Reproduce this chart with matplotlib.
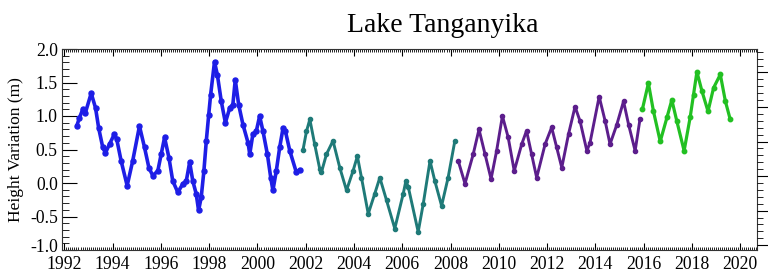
import numpy as np
import matplotlib
matplotlib.use("Agg")
import matplotlib.pyplot as plt
import matplotlib.transforms as mtransforms
from matplotlib.ticker import MultipleLocator

# ========================
# DATA
# ========================
# TOPEX/Poseidon
blue_years = [1992.51, 1992.62, 1992.76, 1992.87, 1993.11, 1993.29, 1993.42, 1993.59,
              1993.70, 1993.87, 1994.07, 1994.17, 1994.35, 1994.60, 1994.83, 1995.11,
              1995.32, 1995.50, 1995.66, 1995.87, 1996.01, 1996.15, 1996.33, 1996.49,
              1996.70, 1996.91, 1997.05, 1997.19, 1997.32, 1997.46, 1997.56, 1997.67,
              1997.78, 1997.88, 1997.98, 1998.06, 1998.22, 1998.34, 1998.50, 1998.67,
              1998.85, 1998.98, 1999.08, 1999.22, 1999.40, 1999.61, 1999.68, 1999.81,
              1999.95, 2000.09, 2000.23, 2000.41, 2000.55, 2000.64, 2000.78, 2000.92,
              2001.06, 2001.16, 2001.34, 2001.61, 2001.75]
blue_h = [0.85, 0.97, 1.10, 1.05, 1.34, 1.12, 0.82, 0.53,
          0.45, 0.58, 0.73, 0.65, 0.33, -0.04, 0.33, 0.85,
          0.53, 0.23, 0.11, 0.18, 0.43, 0.68, 0.38, 0.03,
          -0.14, -0.01, 0.03, 0.31, 0.03, -0.16, -0.41, -0.21,
          0.18, 0.63, 1.02, 1.32, 1.81, 1.61, 1.22, 0.90,
          1.12, 1.17, 1.54, 1.17, 0.87, 0.60, 0.43, 0.73,
          0.77, 1.00, 0.77, 0.43, 0.08, -0.11, 0.18, 0.53,
          0.82, 0.77, 0.48, 0.16, 0.20]

# Jason-1
teal_years = [2001.89, 2002.03, 2002.17, 2002.37, 2002.58, 2002.65, 2002.86, 2003.13,
              2003.41, 2003.69, 2003.96, 2004.14, 2004.31, 2004.59, 2004.86, 2005.07,
              2005.35, 2005.69, 2006.04, 2006.15, 2006.25, 2006.66, 2006.87, 2007.15,
              2007.35, 2007.63, 2007.90, 2008.18]
teal_h = [0.50, 0.77, 0.95, 0.58, 0.21, 0.16, 0.43, 0.63,
          0.23, -0.11, 0.18, 0.40, 0.08, -0.46, -0.16, 0.08,
          -0.26, -0.68, -0.16, 0.03, -0.06, -0.73, -0.31, 0.33,
          0.03, -0.34, 0.08, 0.63]

# Jason-2
purple_years = [2008.32, 2008.60, 2008.94, 2009.18, 2009.43, 2009.68, 2009.91, 2010.15,
                2010.39, 2010.64, 2010.95, 2011.15, 2011.36, 2011.57, 2011.92, 2012.19,
                2012.40, 2012.61, 2012.89, 2013.16, 2013.37, 2013.65, 2013.78, 2014.16,
                2014.41, 2014.61, 2014.89, 2015.17, 2015.38, 2015.65, 2015.85]
purple_h = [0.33, -0.01, 0.43, 0.80, 0.43, 0.06, 0.48, 1.00,
            0.68, 0.18, 0.58, 0.78, 0.43, 0.08, 0.58, 0.83,
            0.53, 0.23, 0.73, 1.14, 0.92, 0.48, 0.60, 1.29,
            0.92, 0.58, 0.87, 1.22, 0.87, 0.48, 0.95]

# Jason-3
green_years = [2015.95, 2016.20, 2016.41, 2016.69, 2016.97, 2017.17, 2017.38, 2017.68,
               2017.93, 2018.07, 2018.21, 2018.42, 2018.67, 2018.90, 2019.18, 2019.39,
               2019.59]
green_h = [1.10, 1.49, 1.07, 0.62, 0.98, 1.24, 0.92, 0.48,
           0.98, 1.32, 1.66, 1.37, 1.07, 1.42, 1.62, 1.22,
           0.95]

x_ticks = list(range(1992, 2021, 2))
y_ticks = [-1.0, -0.5, 0.0, 0.5, 1.0, 1.5, 2.0]

# ========================
# PLOT
# ========================
plt.rcParams['font.family'] = ['Liberation Serif', 'DejaVu Serif']

fig = plt.figure(figsize=(7.68, 2.72), dpi=100)
ax = fig.add_axes([62 / 768, 1 - 250 / 272, (757 - 62) / 768, (250 - 49) / 272])

series = [
    (blue_years, blue_h, '#1e1ee6', 2.6, 3.6),
    (teal_years, teal_h, '#1f7a78', 2.1, 3.0),
    (purple_years, purple_h, '#5c1e8c', 2.1, 3.0),
    (green_years, green_h, '#22c022', 2.3, 3.2),
]
for xs, ys, col, lw, ms in series:
    ax.plot(xs, ys, color=col, lw=lw, marker='o', ms=ms, mec=col, mfc=col,
            solid_capstyle='round', solid_joinstyle='round')

ax.set_xlim(1991.9, 2020.7)
ax.set_ylim(-1.0, 2.0)
ax.set_xticks(x_ticks)
ax.set_yticks(y_ticks)
ax.set_yticklabels([f"{v:.1f}" for v in y_ticks])
ax.xaxis.set_minor_locator(MultipleLocator(1 / 12))
ax.yaxis.set_minor_locator(MultipleLocator(0.1))
ax.tick_params(axis='x', which='major', direction='in', length=5, width=0.8,
               top=True, labelsize=12.7, pad=4)
ax.tick_params(axis='x', which='minor', direction='in', length=2.5, width=0.6, top=True)
ax.tick_params(axis='y', which='major', direction='in', length=11, width=0.8,
               right=False, labelsize=12.7, pad=3)
ax.tick_params(axis='y', which='minor', direction='in', length=5, width=0.6, right=False)
for s in ax.spines.values():
    s.set_linewidth(0.8)
    s.set_color('#333333')

# nudge the bottom y label up a little so it clears "1992"
bottom_lbl = ax.get_yticklabels()[0]
bottom_lbl.set_transform(bottom_lbl.get_transform() +
                         mtransforms.ScaledTranslation(0, 5 / 100, fig.dpi_scale_trans))

ax.set_ylabel('Height Variation (m)', fontsize=12.5, labelpad=4)

# right-hand axis: only the tick marks survive inside the picture
ax2 = ax.twinx()
ax2.set_ylim(772.93, 775.84)
ax2.set_yticks([773.0, 773.5, 774.0, 774.5, 775.0, 775.5])
ax2.yaxis.set_minor_locator(MultipleLocator(0.1))
ax2.tick_params(axis='y', which='major', direction='out', length=8, width=0.8,
                labelright=False)
ax2.tick_params(axis='y', which='minor', direction='out', length=4, width=0.6)
for s in ax2.spines.values():
    s.set_visible(False)

fig.text(443 / 768, 1 - 25 / 272, 'Lake Tanganyika', ha='center', va='center',
         fontsize=20)

fig.savefig('out.png', dpi=100)
